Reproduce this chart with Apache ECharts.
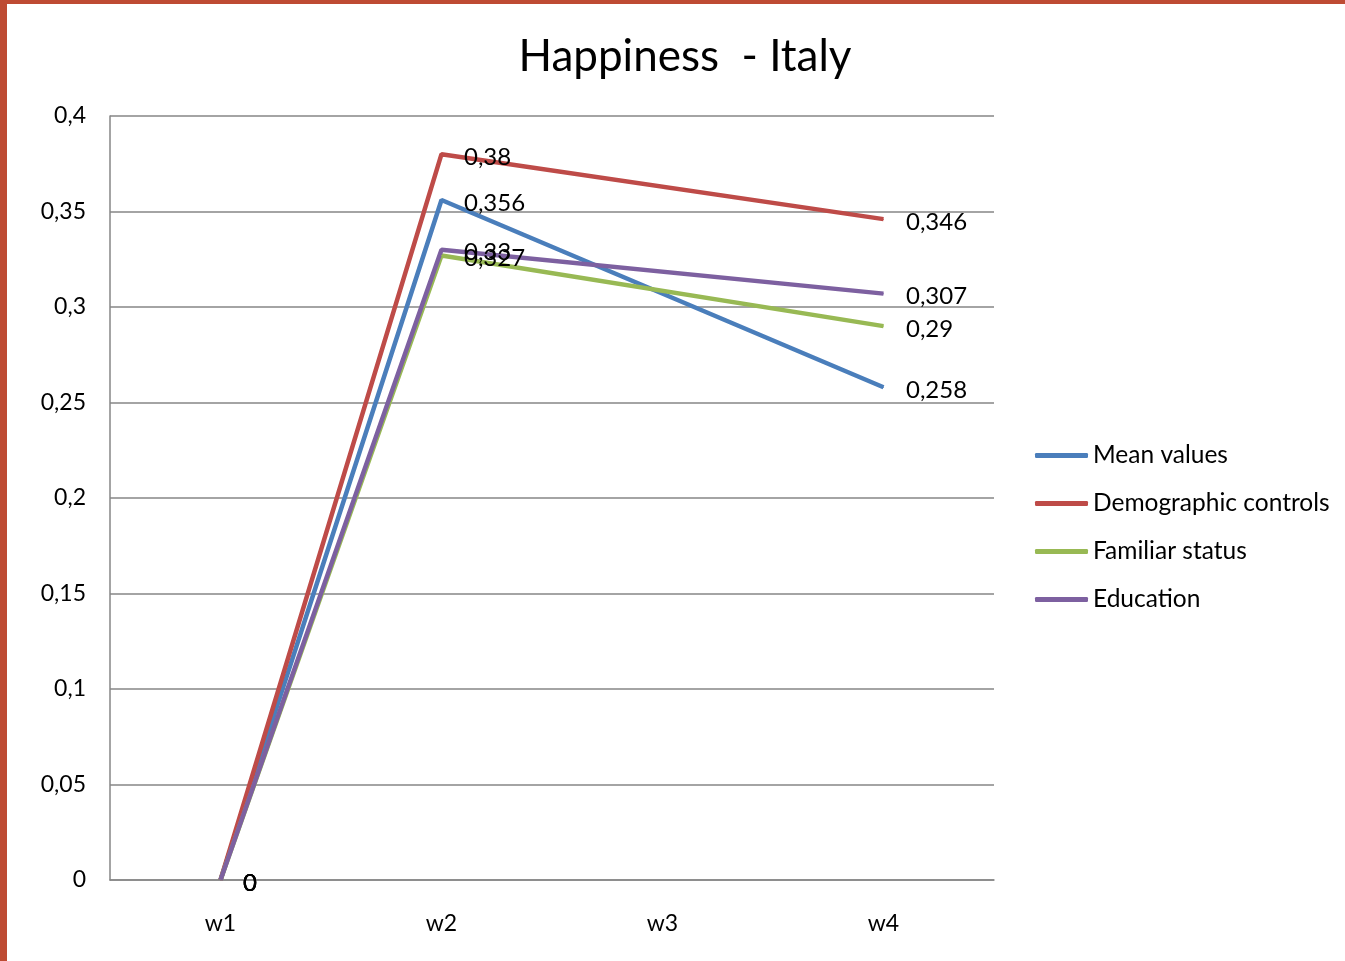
<!DOCTYPE html>
<html>
<head>
<meta charset="utf-8">
<script src="https://cdn.jsdelivr.net/npm/echarts@6/dist/echarts.min.js"></script>
<style>
  html, body { margin: 0; padding: 0; background: #fff; }
  #frame { position: absolute; left: 0; top: 0; width: 1345px; height: 961px; box-sizing: border-box;
           border-left: 7px solid #BE4B33; border-top: 4px solid #BE4B33; }
  #main { position: absolute; left: 0; top: 0; width: 1345px; height: 961px; }
</style>
</head>
<body>
<div id="frame"></div>
<div id="main"></div>
<script>
// 数据
var waves = ['w1', 'w2', 'w3', 'w4'];
var meanValues = [0, 0.356, null, 0.258];
var demographicControls = [0, 0.38, null, 0.346];
var familiarStatus = [0, 0.327, null, 0.29];
var education = [0, 0.33, null, 0.307];

var chart = echarts.init(document.getElementById('main'));
var font = 'Lato, "Open Sans", sans-serif';

function comma(v) { return String(v).replace('.', ','); }

function makeSeries(name, data, color) {
  return {
    name: name,
    type: 'line',
    data: data,
    connectNulls: true,
    symbol: 'circle',
    symbolSize: 1,
    showSymbol: true,
    lineStyle: { color: color, width: 4.5 },
    itemStyle: { color: color },
    label: {
      show: true,
      position: 'right',
      distance: 22,
      offset: [0, 3],
      color: '#000',
      fontFamily: font,
      fontSize: 24,
      formatter: function (p) { return comma(p.value); }
    }
  };
}

var option = {
  animation: false,
  title: {
    text: 'Happiness  - Italy',
    left: 680,
    top: 30,
    textAlign: 'center',
    textStyle: { fontFamily: font, fontSize: 44, fontWeight: 'normal', color: '#000' }
  },
  legend: {
    orient: 'vertical',
    left: 1035,
    top: 443,
    padding: 0,
    itemWidth: 53,
    itemHeight: 5,
    itemGap: 23,
    icon: 'roundRect',
    textStyle: { fontFamily: font, fontSize: 24.5, color: '#000' },
    data: ['Mean values', 'Demographic controls', 'Familiar status', 'Education']
  },
  grid: { left: 110, top: 116, right: 351, bottom: 81 },
  xAxis: {
    type: 'category',
    data: waves,
    boundaryGap: true,
    axisLine: { lineStyle: { color: '#868686', width: 1.5 } },
    axisTick: { show: false },
    axisLabel: { color: '#000', fontFamily: font, fontSize: 23, margin: 32 }
  },
  yAxis: {
    type: 'value',
    min: 0,
    max: 0.4,
    interval: 0.05,
    axisLine: { show: true, lineStyle: { color: '#868686', width: 1.5 } },
    axisTick: { show: false },
    splitLine: { lineStyle: { color: '#868686', width: 1.5 } },
    axisLabel: {
      color: '#000', fontFamily: font, fontSize: 23, margin: 24,
      formatter: function (v) { return comma(+v.toFixed(2)); }
    }
  },
  series: [
    makeSeries('Mean values', meanValues, '#4A7EBB'),
    makeSeries('Demographic controls', demographicControls, '#BE4B48'),
    makeSeries('Familiar status', familiarStatus, '#98B954'),
    makeSeries('Education', education, '#7D60A0')
  ]
};

chart.setOption(option);
</script>
</body>
</html>
